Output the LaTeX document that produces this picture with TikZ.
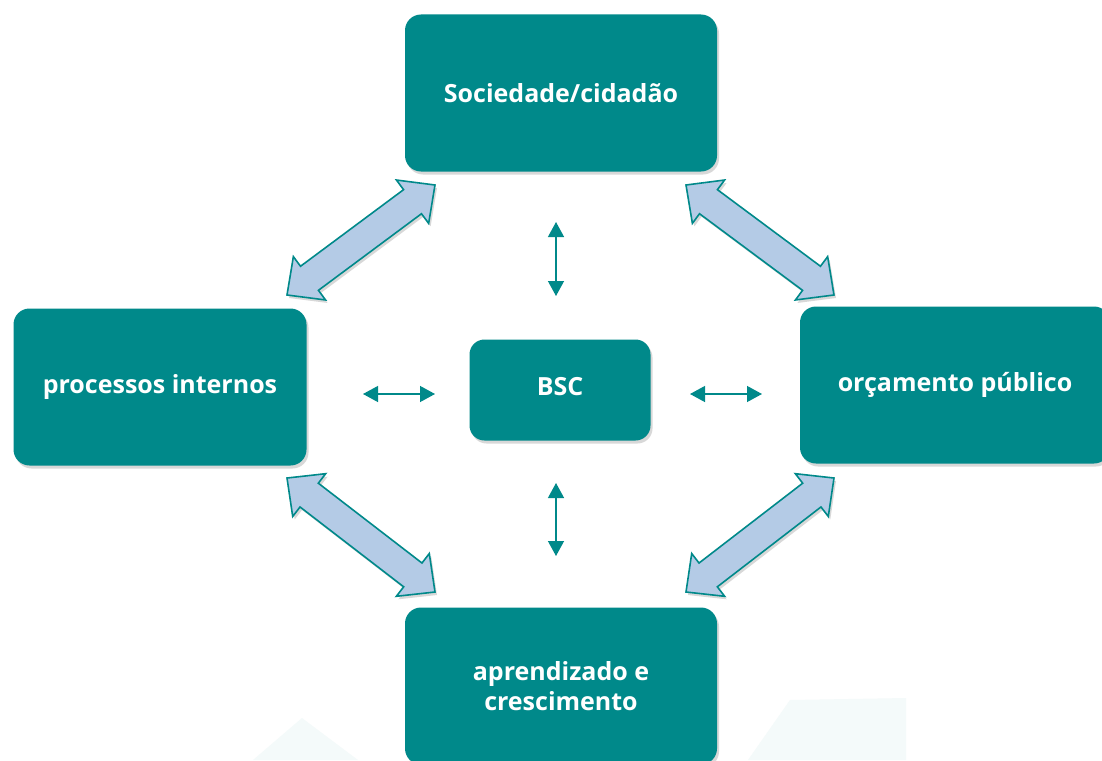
\documentclass[tikz,border=0pt]{standalone}
\usepackage{fontspec}
\setmainfont{Open Sans}
\usetikzlibrary{arrows.meta,calc,shadows}

\definecolor{tealbox}{HTML}{00898A}
\definecolor{arrowfill}{HTML}{B4CBE6}
\definecolor{wmark}{HTML}{F4FAFA}

\tikzset{
  box/.style={rectangle, rounded corners=16pt, inner sep=0pt, fill=tealbox,
    text=white, align=center, font=\fontsize{25}{30}\selectfont\bfseries,
    drop shadow={opacity=0.3, shadow xshift=2pt, shadow yshift=-3pt}},
  bigarrow/.style={draw=tealbox, line width=1.6pt, fill=arrowfill, line join=miter,
    drop shadow={opacity=0.3, shadow xshift=2pt, shadow yshift=-3pt}},
  smallarrow/.style={draw=tealbox, line width=1.3pt,
    {Triangle[length=15pt,width=16pt]}-{Triangle[length=15pt,width=16pt]}},
}

% block double arrow from tip #1 to tip #2
\newcommand{\dblarrow}[2]{%
  \path[bigarrow] (#1)
    -- ($(#1)!28pt!(#2)!27pt!90:(#2)$)
    -- ($(#1)!28pt!(#2)!15pt!90:(#2)$)
    -- ($(#2)!28pt!(#1)!15pt!-90:(#1)$)
    -- ($(#2)!28pt!(#1)!27pt!-90:(#1)$)
    -- (#2)
    -- ($(#2)!28pt!(#1)!27pt!90:(#1)$)
    -- ($(#2)!28pt!(#1)!15pt!90:(#1)$)
    -- ($(#1)!28pt!(#2)!15pt!-90:(#2)$)
    -- ($(#1)!28pt!(#2)!27pt!-90:(#2)$)
    -- cycle;}

\begin{document}
\begin{tikzpicture}[x=1pt,y=-1pt]
  \useasboundingbox[fill=white] (0,0) rectangle (1102,760);

  % faint watermark in the background
  \fill[wmark] (253,760) -- (302,718) -- (358,760) -- cycle;
  \fill[wmark] (748,760) -- (790,700) -- (906,698) -- (906,760) -- cycle;

  % perspectives
  \node[box, minimum width=312pt, minimum height=157pt] (soc) at (561,93) {Sociedade/cidadão};
  \node[box, minimum width=293pt, minimum height=157pt] (proc) at (160,387) {processos internos};
  \node[box, minimum width=310pt, minimum height=157pt] (orc) at (955,385) {orçamento público};
  \node[box, minimum width=312pt, minimum height=157pt] (apr) at (561,686) {aprendizado e\\crescimento};
  \node[box, minimum width=181pt, minimum height=101pt, rounded corners=15pt,
        text depth=8pt] (bsc) at (560,390) {BSC};

  % tips of the block arrows
  \coordinate (tl-a) at (287,295);
  \coordinate (tl-b) at (435,185);
  \coordinate (tr-a) at (686,185);
  \coordinate (tr-b) at (834,295);
  \coordinate (bl-a) at (287,478);
  \coordinate (bl-b) at (435,592);
  \coordinate (br-a) at (834,478);
  \coordinate (br-b) at (686,592);
  \dblarrow{tl-a}{tl-b}
  \dblarrow{tr-a}{tr-b}
  \dblarrow{bl-a}{bl-b}
  \dblarrow{br-a}{br-b}

  % small arrows round BSC
  \coordinate (n1) at (556,222);
  \coordinate (n2) at (556,296);
  \coordinate (s1) at (556,483);
  \coordinate (s2) at (556,556);
  \coordinate (w1) at (363,394);
  \coordinate (w2) at (435,394);
  \coordinate (e1) at (690,394);
  \coordinate (e2) at (762,394);
  \draw[smallarrow] (n1) -- (n2);
  \draw[smallarrow] (s1) -- (s2);
  \draw[smallarrow] (w1) -- (w2);
  \draw[smallarrow] (e1) -- (e2);
\end{tikzpicture}
\end{document}
